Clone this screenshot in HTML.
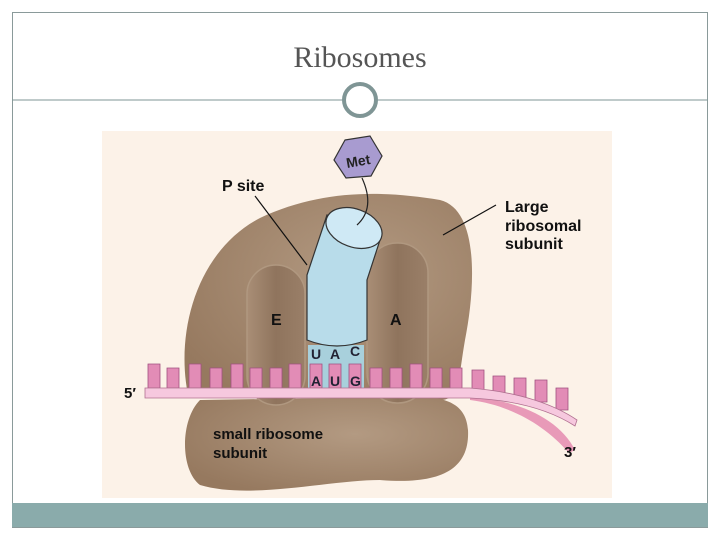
<!DOCTYPE html><html><head><style>body{margin:0;width:720px;height:540px;background:#fff;overflow:hidden}</style></head><body>
<svg width="720" height="540" xmlns="http://www.w3.org/2000/svg" font-family="Liberation Sans, sans-serif">
<rect x="12.5" y="12.5" width="695" height="515" fill="#fff" stroke="#8a9a9a"/>
<text x="360" y="67" text-anchor="middle" font-family="Liberation Serif, serif" font-size="30" fill="#555">Ribosomes</text>
<line x1="12" y1="100" x2="342" y2="100" stroke="#7f9595"/><line x1="378" y1="100" x2="708" y2="100" stroke="#7f9595"/>
<circle cx="360" cy="100" r="16" fill="#fff" stroke="#7f9595" stroke-width="4"/>
<rect x="102" y="131" width="510" height="367" fill="#fcf2e8"/>
<rect x="12" y="503" width="696" height="24" fill="#8aabab"/>
<defs><radialGradient id="g" cx="0.6" cy="0.4" r="0.7"><stop offset="0" stop-color="#b39a82"/><stop offset="1" stop-color="#96795f"/></radialGradient>
<linearGradient id="p" x1="0" x2="1"><stop offset="0" stop-color="#a98e76"/><stop offset="0.5" stop-color="#8f745d"/><stop offset="1" stop-color="#9a7f68"/></linearGradient></defs>
<path d="M188,395 C175,330 198,250 260,218 C320,190 380,190 440,200 C480,210 475,290 465,340 C458,380 460,400 440,400 Z" fill="url(#g)"/>
<path d="M200,400 C180,420 180,470 200,485 C250,500 330,480 380,480 C440,485 470,470 468,430 C466,400 440,395 400,397 Z" fill="url(#g)"/>
<rect x="247" y="265" width="58" height="140" rx="29" fill="url(#p)" stroke="#b09880" stroke-width="1.5"/>
<rect x="367" y="243" width="61" height="160" rx="30" fill="url(#p)" stroke="#b09880" stroke-width="1.5"/>
<rect x="308" y="345" width="56" height="45" fill="#a8d0dc"/>
<path d="M307,275 L327,215 L380,240 L367,280 L367,340 Q337,352 307,340 Z" fill="#b8dcea" stroke="#333" stroke-width="1.2"/>
<ellipse cx="354" cy="228" rx="29" ry="19" transform="rotate(20 354 228)" fill="#cfe9f5" stroke="#333" stroke-width="1.2"/>
<path d="M362,178 C372,200 368,215 357,225" fill="none" stroke="#222" stroke-width="1.2"/>
<polygon points="345,140 370,136 382,156 371,176 346,178 334,160" fill="#a89bd0" stroke="#333" stroke-width="1.2"/>
<text x="358" y="166" text-anchor="middle" font-size="14" font-weight="bold" transform="rotate(-10 358 160)" fill="#222">Met</text>
<g fill="#e28cb6" stroke="#a05080" stroke-width="0.8">
<path d="M148,364 h12 v24 h-12z M167,368 h12 v20 h-12z M189,364 h12 v24 h-12z M210,368 h12 v20 h-12z M231,364 h12 v24 h-12z M250,368 h12 v20 h-12z M270,368 h12 v20 h-12z M289,364 h12 v24 h-12z M310,364 h12 v24 h-12z M329,364 h12 v24 h-12z M349,364 h12 v24 h-12z M370,368 h12 v20 h-12z M390,368 h12 v20 h-12z M410,364 h12 v24 h-12z M430,368 h12 v20 h-12z M450,368 h12 v22 h-12z M472,370 h12 v22 h-12z M493,376 h12 v20 h-12z M514,378 h12 v20 h-12z M535,380 h12 v22 h-12z M556,388 h12 v22 h-12z"/>
</g>
<path d="M470,397 C520,400 560,420 575,450 L569,453 C545,425 510,405 470,400 Z" fill="#e89ab8"/>
<path d="M145,388 L470,388 C520,392 555,405 577,420 L575,426 C550,410 515,400 470,398 L145,398 Z" fill="#f6c8de" stroke="#b07090" stroke-width="0.8"/>
<g font-weight="bold" fill="#111">
<text x="222" y="191" font-size="16">P site</text>
<text x="505" y="212" font-size="16">Large</text><text x="505" y="231" font-size="16">ribosomal</text><text x="505" y="249" font-size="16">subunit</text>
<text x="271" y="325" font-size="16">E</text><text x="390" y="325" font-size="16">A</text>
<text x="124" y="398" font-size="15">5′</text><text x="564" y="457" font-size="15">3′</text>
<text x="213" y="439" font-size="15">small ribosome</text><text x="213" y="458" font-size="15">subunit</text>
</g>
<g font-weight="bold" font-size="14" fill="#223">
<text x="311" y="359">U</text><text x="330" y="359">A</text><text x="350" y="356">C</text>
<text x="311" y="386">A</text><text x="330" y="386">U</text><text x="350" y="386">G</text>
</g>
<line x1="255" y1="196" x2="307" y2="265" stroke="#111" stroke-width="1.2"/>
<line x1="496" y1="205" x2="443" y2="235" stroke="#111" stroke-width="1.2"/>
</svg></body></html>
